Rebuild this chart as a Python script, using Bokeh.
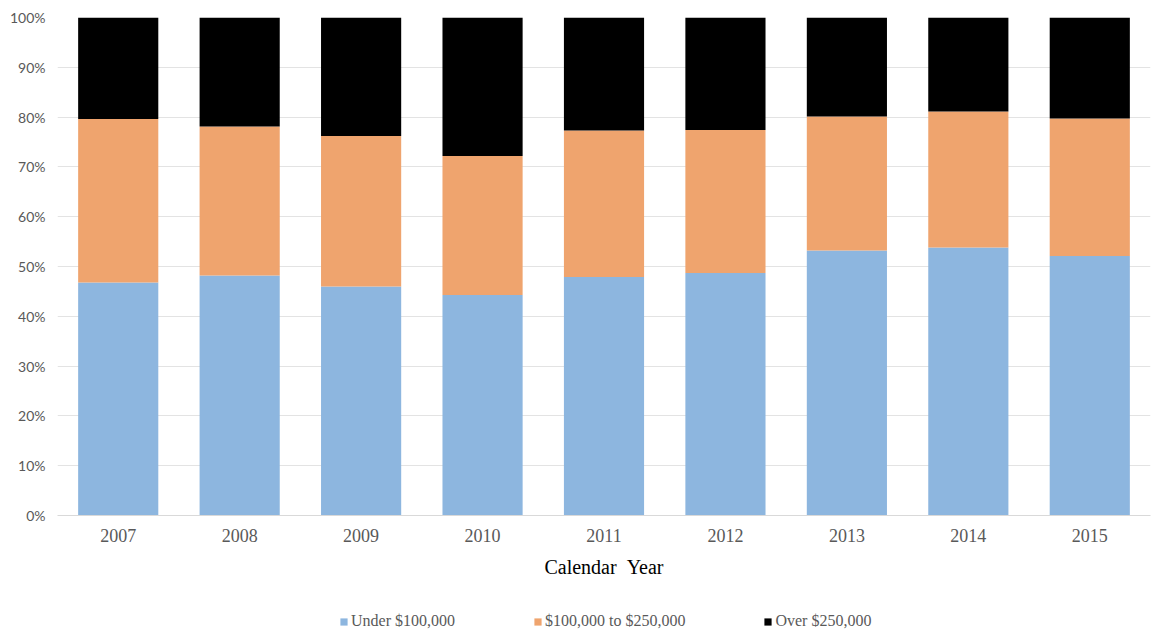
from bokeh.plotting import figure
from bokeh.layouts import column
from bokeh.models import ColumnDataSource, Legend, LegendItem, NumeralTickFormatter, FixedTicker
from bokeh.embed import file_html
from bokeh.resources import INLINE

years = ["2007", "2008", "2009", "2010", "2011", "2012", "2013", "2014", "2015"]
under_100k = [0.468, 0.482, 0.460, 0.443, 0.479, 0.487, 0.532, 0.538, 0.521]
mid_100k_250k = [0.328, 0.299, 0.302, 0.279, 0.294, 0.287, 0.269, 0.273, 0.276]
over_250k = [round(1 - a - b, 3) for a, b in zip(under_100k, mid_100k_250k)]
series = ["under", "mid", "over"]
labels = ["Under $100,000", "$100,000 to $250,000", "Over $250,000"]
colors = ["#8DB6DF", "#EFA46E", "#000000"]

src = ColumnDataSource(dict(years=years, under=under_100k, mid=mid_100k_250k, over=over_250k))

p = figure(x_range=years, y_range=(0, 1), width=1172, height=590,
           output_backend="svg", toolbar_location=None,
           min_border_left=57, min_border_top=17, min_border_right=22,
           min_border_bottom=75)
p.outline_line_color = None

rs = p.vbar_stack(series, x="years", width=0.66, color=colors, source=src, line_width=0)

p.yaxis.ticker = FixedTicker(ticks=[i / 10 for i in range(11)])
p.yaxis.formatter = NumeralTickFormatter(format="0%")
p.yaxis.axis_line_color = None
p.yaxis.major_tick_line_color = None
p.yaxis.minor_tick_line_color = None
p.yaxis.major_tick_out = 0
p.yaxis.minor_tick_out = 0
p.yaxis.major_label_text_font = "Lato"
p.yaxis.major_label_text_font_size = "14px"
p.yaxis.major_label_text_color = "#595959"
p.yaxis.major_label_standoff = 12

p.xaxis.axis_line_color = "#D9D9D9"
p.xaxis.major_tick_line_color = None
p.xaxis.minor_tick_line_color = None
p.xaxis.major_tick_out = 0
p.xaxis.minor_tick_out = 0
p.xaxis.major_label_text_font = "Liberation Serif"
p.xaxis.major_label_text_font_size = "18px"
p.xaxis.major_label_text_color = "#595959"
p.xaxis.major_label_standoff = 13
p.xaxis.axis_label = "Calendar\u00a0\u00a0Year"
p.xaxis.axis_label_text_font = "Liberation Serif"
p.xaxis.axis_label_text_font_size = "20px"
p.xaxis.axis_label_text_font_style = "normal"
p.xaxis.axis_label_text_color = "#000000"
p.xaxis.axis_label_standoff = 11

p.xgrid.grid_line_color = None
p.ygrid.grid_line_color = "#E3E3E3"
p.x_range.range_padding = 0

# Legend strip below the chart (swatch renderers sit outside the visible range)
lg = figure(width=1172, height=41, output_backend="svg", toolbar_location=None,
            x_range=(0, 1), y_range=(0, 1), x_axis_location=None, y_axis_location=None,
            min_border=0)
lg.outline_line_color = None
lg.grid.visible = False
swatches = [lg.vbar(x=[-10], top=[-10], bottom=[-11], width=1, color=c, line_width=0)
            for c in colors]

legend = Legend(items=[LegendItem(label=l, renderers=[r]) for l, r in zip(labels, swatches)],
                orientation="horizontal", location=(282, 1),
                label_text_font="Liberation Serif", label_text_font_size="16px",
                label_text_color="#595959", glyph_width=9, glyph_height=9,
                spacing=78, border_line_color=None, background_fill_alpha=0,
                margin=0, padding=0, label_standoff=3)
lg.add_layout(legend)

layout = column(p, lg, spacing=0)
open("out.html", "w").write(file_html(layout, INLINE))
